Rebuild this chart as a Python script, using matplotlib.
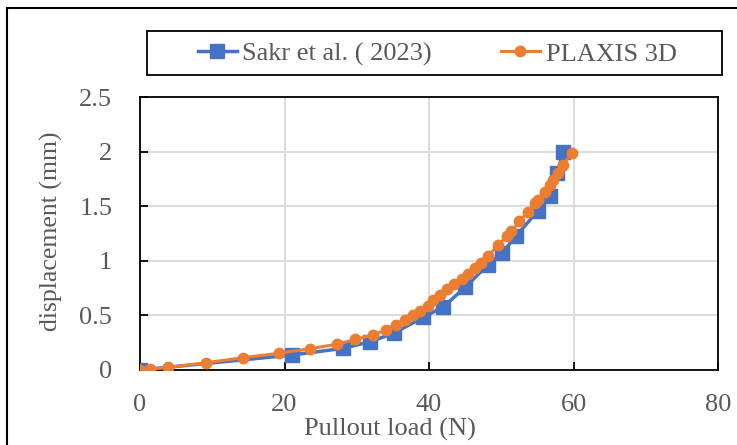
import matplotlib
matplotlib.use("Agg")
import matplotlib.pyplot as plt
from matplotlib.patches import Rectangle

# Sakr et al. (2023) - measured
sakr_load = [0, 21.0, 28.1, 31.9, 35.1, 39.2, 42.0, 45.0, 48.1, 50.1, 52.1, 55.1, 56.7, 57.7, 58.6]
sakr_disp = [0, 0.137, 0.198, 0.26, 0.336, 0.482, 0.58, 0.757, 0.96, 1.07, 1.23, 1.46, 1.59, 1.80, 2.0]

# PLAXIS 3D
plaxis_load = [0, 1.4, 3.9, 9.2, 14.3, 19.2, 23.5, 27.2, 29.8, 32.2, 34.0, 35.4, 36.7, 37.8,
               38.8, 39.8, 40.6, 41.5, 42.5, 43.5, 44.5, 45.4, 46.3, 47.2, 48.1, 49.6, 50.8,
               51.4, 52.5, 53.7, 54.7, 55.1, 56.1, 56.7, 57.2, 57.9, 58.6, 59.8]
plaxis_disp = [0, 0.006, 0.024, 0.067, 0.113, 0.153, 0.195, 0.235, 0.28, 0.32, 0.366, 0.41, 0.455,
               0.50, 0.54, 0.59, 0.64, 0.687, 0.739, 0.788, 0.83, 0.88, 0.93, 0.98, 1.04, 1.145,
               1.227, 1.27, 1.36, 1.45, 1.53, 1.56, 1.63, 1.69, 1.74, 1.80, 1.88, 1.99]

x_ticks = [0, 20, 40, 60, 80]
y_ticks = [0, 0.5, 1, 1.5, 2, 2.5]
y_labels = ["0", "0.5", "1", "1.5", "2", "2.5"]

plt.rcParams['font.family'] = ['Liberation Serif', 'DejaVu Serif']
txt = '#595959'
fs = 19

fig = plt.figure(figsize=(7.37, 4.45), dpi=100)
ax = fig.add_axes([140/737, 75/445, 578/737, 273/445])

ax.plot(sakr_load, sakr_disp, color='#4472C4', lw=2.5, marker='s', ms=9.5,
        label='Sakr et al. ( 2023)', zorder=3)
ax.plot(plaxis_load, plaxis_disp, color='#ED7D31', lw=2.2, marker='o', ms=7.5,
        label='PLAXIS 3D', zorder=4)

ax.set_xlim(0, 80)
ax.set_ylim(0, 2.5)
ax.set_xticks(x_ticks)
ax.set_yticks(y_ticks)
ax.set_yticklabels(y_labels)
ax.grid(True, color='#D9D9D9', lw=1.3)
ax.set_axisbelow(True)
for s in ax.spines.values():
    s.set_color('black')
    s.set_linewidth(1.3)
ax.tick_params(axis='both', direction='in', length=6, width=1.3, colors='black',
               labelcolor=txt, labelsize=fs)
ax.tick_params(axis='x', pad=17)
ax.tick_params(axis='y', pad=20)

# excel puts the titles a bit off centre
ax.set_xlabel('Pullout load (N)', fontsize=fs, color=txt)
ax.xaxis.set_label_coords((390 - 140) / 578, -(418 - 370) / 273)
ax.set_ylabel('displacement (mm)', fontsize=18.5, color=txt)
ax.yaxis.set_label_coords(-(140 - 63) / 578, (370 - 231) / 273)

handles, labels = ax.get_legend_handles_labels()
fig.legend(handles, labels, loc='center', bbox_to_anchor=(437/737, 1 - 54/445),
           ncol=2, frameon=False, fontsize=fs, labelcolor=txt,
           handlelength=1.5, handletextpad=0.2, columnspacing=2.6)
fig.patches.append(Rectangle((147/737, 1 - 75/445), 575/737, 44/445,
                             transform=fig.transFigure, fill=False, ec='black', lw=1.3))
# outer border of the original chart area
fig.patches.append(Rectangle((7/737, -0.1), 1.2, 1.1 - 8/445,
                             transform=fig.transFigure, fill=False, ec='black', lw=1.5))

fig.savefig('out.png', dpi=100)
